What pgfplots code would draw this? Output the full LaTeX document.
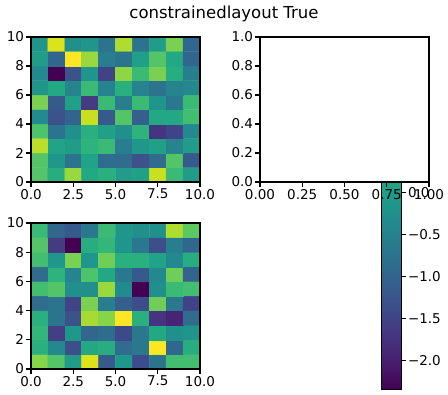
\documentclass[border=0pt]{standalone}
\usepackage{fontspec}
\setmainfont{DejaVu Sans}
\usepackage{pgfplots}
\pgfplotsset{compat=1.18}
\pgfplotsset{
  myax/.style={
    scale only axis,
    anchor=south west,
    enlargelimits=false,
    axis on top,
    tick align=outside,
    tick pos=left,
    major tick length=4.8pt,
    axis line style={line width=1.1pt},
    every tick/.style={line width=1.1pt, black},
    tick label style={font=\fontsize{13.5}{16}\selectfont, inner sep=2pt},
  },
  heat/.style={
    myax,
    xmin=0, xmax=10, ymin=0, ymax=10,
    xtick={0,2.5,5,7.5,10}, xticklabels={0.0,2.5,5.0,7.5,10.0},
    ytick={0,2,4,6,8,10}, yticklabels={0,2,4,6,8,10},
    colormap/viridis, point meta min=0, point meta max=1,
  },
}
\begin{document}
\begin{tikzpicture}
\path[use as bounding box, fill=white] (0pt,0pt) rectangle (448pt,395pt);
\node[font=\fontsize{16.5}{19}\selectfont] at (224pt,381pt) {constrainedlayout True};

% top-left heatmap
\begin{axis}[heat, at={(31pt,213pt)}, width=169pt, height=145pt]
\addplot[matrix plot*, mesh/cols=10, point meta=explicit] table[row sep=\\, meta index=2] {
0.5 0.5 0.73\\ 1.5 0.5 0.62\\ 2.5 0.5 0.85\\ 3.5 0.5 0.60\\ 4.5 0.5 0.63\\ 5.5 0.5 0.55\\ 6.5 0.5 0.57\\ 7.5 0.5 0.92\\ 8.5 0.5 0.68\\ 9.5 0.5 0.55\\
0.5 1.5 0.73\\ 1.5 1.5 0.53\\ 2.5 1.5 0.38\\ 3.5 1.5 0.58\\ 4.5 1.5 0.35\\ 5.5 1.5 0.35\\ 6.5 1.5 0.25\\ 7.5 1.5 0.35\\ 8.5 1.5 0.73\\ 9.5 1.5 0.28\\
0.5 2.5 0.90\\ 1.5 2.5 0.58\\ 2.5 2.5 0.55\\ 3.5 2.5 0.65\\ 4.5 2.5 0.68\\ 5.5 2.5 0.42\\ 6.5 2.5 0.53\\ 7.5 2.5 0.57\\ 8.5 2.5 0.45\\ 9.5 2.5 0.55\\
0.5 3.5 0.72\\ 1.5 3.5 0.38\\ 2.5 3.5 0.50\\ 3.5 3.5 0.63\\ 4.5 3.5 0.57\\ 5.5 3.5 0.50\\ 6.5 3.5 0.65\\ 7.5 3.5 0.15\\ 8.5 3.5 0.20\\ 9.5 3.5 0.47\\
0.5 4.5 0.48\\ 1.5 4.5 0.25\\ 2.5 4.5 0.32\\ 3.5 4.5 0.92\\ 4.5 4.5 0.28\\ 5.5 4.5 0.73\\ 6.5 4.5 0.30\\ 7.5 4.5 0.60\\ 8.5 4.5 0.60\\ 9.5 4.5 0.70\\
0.5 5.5 0.80\\ 1.5 5.5 0.28\\ 2.5 5.5 0.57\\ 3.5 5.5 0.17\\ 4.5 5.5 0.68\\ 5.5 5.5 0.43\\ 6.5 5.5 0.68\\ 7.5 5.5 0.52\\ 8.5 5.5 0.40\\ 9.5 5.5 0.68\\
0.5 6.5 0.52\\ 1.5 6.5 0.60\\ 2.5 6.5 0.45\\ 3.5 6.5 0.68\\ 4.5 6.5 0.45\\ 5.5 6.5 0.63\\ 6.5 6.5 0.45\\ 7.5 6.5 0.38\\ 8.5 6.5 0.45\\ 9.5 6.5 0.47\\
0.5 7.5 0.47\\ 1.5 7.5 0.00\\ 2.5 7.5 0.25\\ 3.5 7.5 0.52\\ 4.5 7.5 0.20\\ 5.5 7.5 0.83\\ 6.5 7.5 0.68\\ 7.5 7.5 0.80\\ 8.5 7.5 0.62\\ 9.5 7.5 0.43\\
0.5 8.5 0.55\\ 1.5 8.5 0.33\\ 2.5 8.5 1.00\\ 3.5 8.5 0.85\\ 4.5 8.5 0.42\\ 5.5 8.5 0.38\\ 6.5 8.5 0.57\\ 7.5 8.5 0.73\\ 8.5 8.5 0.60\\ 9.5 8.5 0.33\\
0.5 9.5 0.52\\ 1.5 9.5 0.95\\ 2.5 9.5 0.50\\ 3.5 9.5 0.52\\ 4.5 9.5 0.38\\ 5.5 9.5 0.88\\ 6.5 9.5 0.38\\ 7.5 9.5 0.55\\ 8.5 9.5 0.80\\ 9.5 9.5 0.33\\
};
\end{axis}

% bottom-left heatmap
\begin{axis}[heat, at={(31pt,26pt)}, width=169pt, height=146pt]
\addplot[matrix plot*, mesh/cols=10, point meta=explicit] table[row sep=\\, meta index=2] {
0.5 0.5 0.82\\ 1.5 0.5 0.73\\ 2.5 0.5 0.55\\ 3.5 0.5 0.95\\ 4.5 0.5 0.28\\ 5.5 0.5 0.53\\ 6.5 0.5 0.23\\ 7.5 0.5 0.38\\ 8.5 0.5 0.70\\ 9.5 0.5 0.70\\
0.5 1.5 0.63\\ 1.5 1.5 0.47\\ 2.5 1.5 0.24\\ 3.5 1.5 0.60\\ 4.5 1.5 0.62\\ 5.5 1.5 0.35\\ 6.5 1.5 0.40\\ 7.5 1.5 1.00\\ 8.5 1.5 0.33\\ 9.5 1.5 0.62\\
0.5 2.5 0.66\\ 1.5 2.5 0.18\\ 2.5 2.5 0.53\\ 3.5 2.5 0.33\\ 4.5 2.5 0.35\\ 5.5 2.5 0.22\\ 6.5 2.5 0.40\\ 7.5 2.5 0.60\\ 8.5 2.5 0.50\\ 9.5 2.5 0.52\\
0.5 3.5 0.63\\ 1.5 3.5 0.38\\ 2.5 3.5 0.25\\ 3.5 3.5 0.87\\ 4.5 3.5 0.82\\ 5.5 3.5 1.00\\ 6.5 3.5 0.63\\ 7.5 3.5 0.15\\ 8.5 3.5 0.10\\ 9.5 3.5 0.35\\
0.5 4.5 0.35\\ 1.5 4.5 0.38\\ 2.5 4.5 0.20\\ 3.5 4.5 0.80\\ 4.5 4.5 0.42\\ 5.5 4.5 0.30\\ 6.5 4.5 0.23\\ 7.5 4.5 0.78\\ 8.5 4.5 0.40\\ 9.5 4.5 0.20\\
0.5 5.5 0.70\\ 1.5 5.5 0.73\\ 2.5 5.5 0.50\\ 3.5 5.5 0.50\\ 4.5 5.5 0.85\\ 5.5 5.5 0.48\\ 6.5 5.5 0.00\\ 7.5 5.5 0.50\\ 8.5 5.5 0.68\\ 9.5 5.5 0.70\\
0.5 6.5 0.35\\ 1.5 6.5 0.65\\ 2.5 6.5 0.45\\ 3.5 6.5 0.72\\ 4.5 6.5 0.60\\ 5.5 6.5 0.40\\ 6.5 6.5 0.28\\ 7.5 6.5 0.47\\ 8.5 6.5 0.78\\ 9.5 6.5 0.32\\
0.5 7.5 0.70\\ 1.5 7.5 0.53\\ 2.5 7.5 0.80\\ 3.5 7.5 0.53\\ 4.5 7.5 0.78\\ 5.5 7.5 0.63\\ 6.5 7.5 0.63\\ 7.5 7.5 0.58\\ 8.5 7.5 0.47\\ 9.5 7.5 0.62\\
0.5 8.5 0.73\\ 1.5 8.5 0.17\\ 2.5 8.5 0.00\\ 3.5 8.5 0.62\\ 4.5 8.5 0.66\\ 5.5 8.5 0.52\\ 6.5 8.5 0.40\\ 7.5 8.5 0.24\\ 8.5 8.5 0.43\\ 9.5 8.5 0.33\\
0.5 9.5 0.68\\ 1.5 9.5 0.33\\ 2.5 9.5 0.28\\ 3.5 9.5 0.40\\ 4.5 9.5 0.68\\ 5.5 9.5 0.52\\ 6.5 9.5 0.50\\ 7.5 9.5 0.50\\ 8.5 9.5 0.88\\ 9.5 9.5 0.75\\
};
\end{axis}

% colorbar (drawn first, partly hidden by the top-right axes)
\pgfplotscolorbardrawstandalone[
  colormap/viridis, point meta min=-2.337, point meta max=1.85,
  colorbar shift/.style={},
  colorbar/width=20pt,
  colorbar style={
    scale only axis,
    at={(381pt,6pt)}, anchor=south west,
    width=20pt, height=352pt,
    tick align=outside,
    ytick pos=right,
    major tick length=4.8pt,
    axis line style={line width=0.9pt},
    every tick/.style={line width=1.1pt, black},
    ytick={-2,-1.5,-1,-0.5,0,0.5,1,1.5},
    yticklabels={−2.0,−1.5,−1.0,−0.5,0.0,0.5,1.0,1.5},
    yticklabel style={font=\fontsize{13.5}{16}\selectfont, inner sep=2pt},
  }]

% top-right empty axes
\begin{axis}[myax, at={(260pt,213pt)}, width=169pt, height=145pt,
  axis background/.style={fill=white},
  xmin=0, xmax=1, ymin=0, ymax=1,
  xtick={0,0.25,0.5,0.75,1}, xticklabels={0.00,0.25,0.50,0.75,1.00},
  ytick={0,0.2,0.4,0.6,0.8,1}, yticklabels={0.0,0.2,0.4,0.6,0.8,1.0}]
\end{axis}
\end{tikzpicture}
\end{document}
